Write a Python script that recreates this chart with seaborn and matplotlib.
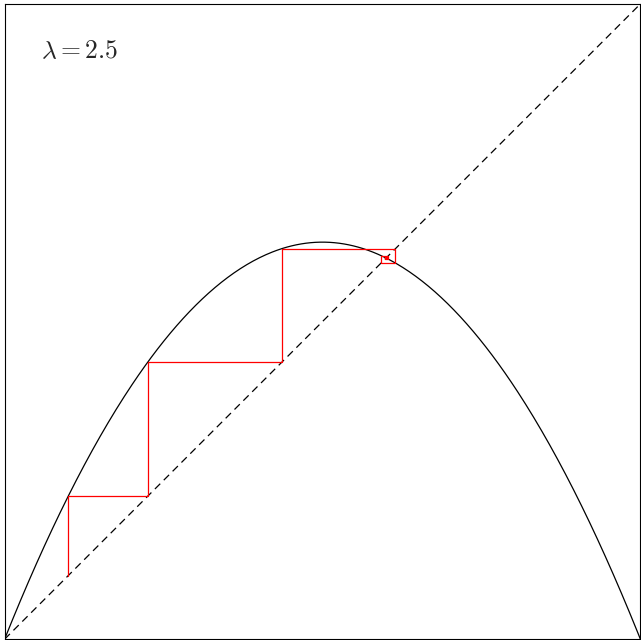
import numpy as np
import pandas as pd
import matplotlib
matplotlib.use("Agg")
import matplotlib.pyplot as plt
import seaborn as sns

# logistic map parameters
lam = 2.5
x_start = 0.1
n_iter = 30

sns.set_style("white")
plt.rcParams["mathtext.fontset"] = "cm"

# map curve
xs = np.linspace(0, 1, 400)
curve = pd.DataFrame({"x": xs, "y": lam * xs * (1 - xs)})

# cobweb path
px, py = [x_start], [x_start]
x = x_start
for i in range(n_iter):
    fx = lam * x * (1 - x)
    px += [x, fx]
    py += [fx, fx]
    x = fx
web = pd.DataFrame({"x": px, "y": py})

fig = plt.figure(figsize=(6.41, 6.40), dpi=100)
ax = fig.add_axes([4.6 / 641, 0.8 / 640, 635.8 / 641, 635.3 / 640])

sns.lineplot(data=curve, x="x", y="y", color="black", lw=0.9, ax=ax,
             sort=False, estimator=None)
ax.plot([0, 1], [0, 1], color="black", lw=0.9, ls=(0, (6, 4)))
sns.lineplot(data=web, x="x", y="y", color="red", lw=0.9, ax=ax,
             sort=False, estimator=None)

ax.text(0.058, 0.925, r"$\lambda = 2.5$", fontsize=18.5, va="center", ha="left")

ax.set_xlim(0, 1)
ax.set_ylim(0, 1)
ax.set_xticks([])
ax.set_yticks([])
ax.set_xlabel("")
ax.set_ylabel("")
for s in ax.spines.values():
    s.set_color("black")
    s.set_linewidth(0.8)

fig.savefig("out.png", dpi=100)
